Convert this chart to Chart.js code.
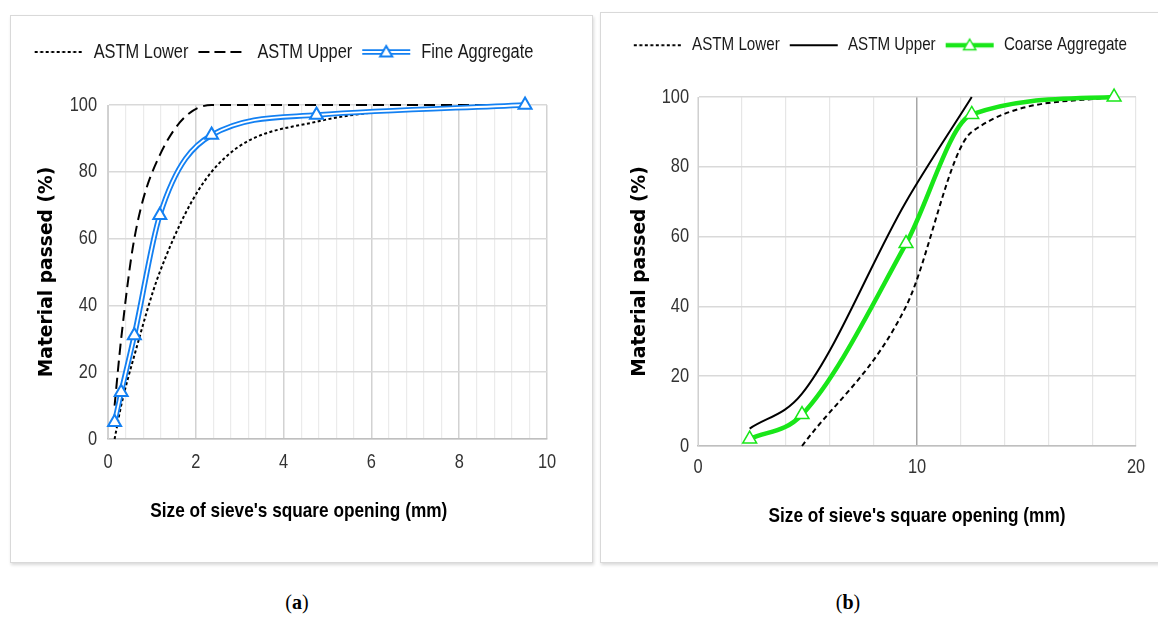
<!DOCTYPE html>
<html>
<head>
<meta charset="utf-8">
<script src="https://cdn.jsdelivr.net/npm/chart.js@4.4.1/dist/chart.umd.min.js"></script>
<style>
  body { margin: 0; background: #fff; width: 1158px; height: 617px; overflow: hidden; position: relative; }
  .panel { position: absolute; border: 1px solid #d9d9d9; box-shadow: 1px 2px 3px rgba(0,0,0,0.15); box-sizing: border-box; }
  canvas { position: absolute; }
  .cap { position: absolute; top: 590px; width: 100px; text-align: center; font-family: "Liberation Serif", serif; font-size: 20px; line-height: 24px; }
</style>
</head>
<body>
<div class="panel" style="left:10px; top:15px; width:583px; height:548px;"></div>
<div class="panel" style="left:600px; top:12px; width:562px; height:551px;"></div>
<canvas id="chartA" width="583" height="548" style="left:10px; top:15px;"></canvas>
<canvas id="chartB" width="558" height="551" style="left:600px; top:12px;"></canvas>
<div class="cap" style="left:247px;">(<b>a</b>)</div>
<div class="cap" style="left:798px;">(<b>b</b>)</div>
<script>
// sieve sizes (mm) and % passing
const fineSieve = [0.15, 0.3, 0.6, 1.18, 2.36, 4.75, 9.5];
const fineLower = [0, 10, 25, 50, 80, 95, 100];
const fineUpper = [10, 30, 60, 85, 100, 100, 100];
const fineAgg = [5, 14, 31, 67, 91, 97, 100];

const coarseSieve = [2.36, 4.75, 9.5, 12.5, 19];
const coarseLower = [null, 0, 40, 90, 100];
const coarseUpper = [5, 15, 70, 100, null];
const coarseAgg = [2, 9, 58, 95, 100];

const xLabelsA = [0, 2, 4, 6, 8, 10];
const xLabelsB = [0, 10, 20];
const yLabels = [0, 20, 40, 60, 80, 100];

const BLUE = '#1380f2';
const GREEN = '#19e619';
const NARROW = "'Liberation Sans', Arial, sans-serif";
const WIDE = "'DejaVu Sans', Verdana, sans-serif";
const X_TITLE = "Size of sieve's square opening (mm)";

// no condensed font is installed, so squeeze Liberation Sans text sideways
function condenseText(canvas, factor) {
  const ctx = canvas.getContext('2d');
  const fill = ctx.fillText.bind(ctx);
  const measure = ctx.measureText.bind(ctx);
  const narrow = () => ctx.font.indexOf('Liberation Sans') >= 0;
  ctx.fillText = function (text, x, y, maxWidth) {
    if (!narrow()) return maxWidth === undefined ? fill(text, x, y) : fill(text, x, y, maxWidth);
    ctx.save();
    ctx.translate(x, y);
    ctx.scale(factor, 1);
    fill(text, 0, 0);
    ctx.restore();
  };
  ctx.measureText = function (text) {
    const m = measure(text);
    if (!narrow()) return m;
    return { width: m.width * factor, actualBoundingBoxAscent: m.actualBoundingBoxAscent, actualBoundingBoxDescent: m.actualBoundingBoxDescent };
  };
}

function pts(xs, ys) {
  return xs.map((x, i) => ({ x: x, y: ys[i] })).filter(p => p.y !== null);
}

function near(list, v) {
  return list.some(t => Math.abs(t - v) < 1e-6);
}

// little canvases used as legend samples
function sample(w, draw) {
  const c = document.createElement('canvas');
  c.width = w; c.height = 18;
  const ctx = c.getContext('2d');
  draw(ctx, w, 9);
  return c;
}
function tri(ctx, x, y, r, stroke, lw) {
  ctx.setLineDash([]);
  ctx.beginPath();
  ctx.moveTo(x, y - r);
  ctx.lineTo(x + r * 0.866, y + r * 0.5);
  ctx.lineTo(x - r * 0.866, y + r * 0.5);
  ctx.closePath();
  ctx.fillStyle = '#fff';
  ctx.fill();
  ctx.strokeStyle = stroke;
  ctx.lineWidth = lw;
  ctx.stroke();
}
function hline(ctx, w, y, color, lw, dash) {
  ctx.beginPath();
  ctx.setLineDash(dash);
  ctx.strokeStyle = color;
  ctx.lineWidth = lw;
  ctx.moveTo(1, y);
  ctx.lineTo(w - 1, y);
  ctx.stroke();
}

const SW = 50;
const dotSample = sample(SW, (c, w, y) => hline(c, w, y, '#000', 2, [3, 2.5]));
const dashSample = sample(SW, (c, w, y) => hline(c, w, y, '#000', 2, [11, 5]));
const solidSample = sample(SW, (c, w, y) => hline(c, w, y, '#000', 2, []));
const blueSample = sample(SW, (c, w, y) => {
  hline(c, w, y, BLUE, 5.5, []);
  hline(c, w, y, '#fff', 1.8, []);
  tri(c, w / 2, y + 1, 7, BLUE, 2);
});
const greenSample = sample(SW, (c, w, y) => {
  hline(c, w, y, GREEN, 4.5, []);
  tri(c, w / 2, y + 1, 7, GREEN, 1.5);
});

// keeps the legend box at a fixed height so the plot area lands where it should
const legendHeight = {
  id: 'legendHeight',
  beforeLayout(chart, args, opts) {
    const lg = chart.legend;
    if (lg && !lg._fixed) {
      const fit = lg.fit;
      lg.fit = function () { fit.call(this); this.height = opts.h; };
      lg._fixed = true;
    }
  }
};

function legendItems(names, styles) {
  return () => names.map((n, i) => ({
    text: n, pointStyle: styles[i], fillStyle: 'transparent', strokeStyle: 'transparent',
    lineWidth: 0, hidden: false, fontColor: '#1a1a1a', datasetIndex: i
  }));
}

function makeChart(id, cfg) {
  const canvas = document.getElementById(id);
  condenseText(canvas, 0.82);
  return new Chart(canvas, {
    type: 'scatter',
    data: { datasets: cfg.datasets },
    options: {
      responsive: false,
      animation: false,
      events: [],
      layout: { padding: cfg.padding },
      plugins: {
        tooltip: { enabled: false },
        legendHeight: { h: cfg.legendH },
        legend: {
          position: 'top',
          align: cfg.align,
          labels: {
            usePointStyle: true,
            pointStyleWidth: SW,
            padding: 9,
            font: { family: NARROW, size: cfg.legendSize },
            generateLabels: legendItems(cfg.names, cfg.samples)
          }
        }
      },
      scales: {
        x: {
          type: 'linear', min: 0, max: cfg.xMax,
          afterFit: s => { s.height = cfg.xAxisH; },
          border: { color: '#bfbfbf', width: 1.5 },
          grid: { drawTicks: false, color: cfg.xGrid, lineWidth: cfg.xGridW },
          ticks: {
            stepSize: cfg.xStep, autoSkip: false, maxRotation: 0, padding: cfg.xTickPad,
            font: { family: NARROW, size: 20 }, color: '#333',
            callback: v => near(cfg.xLabels, v) ? String(Math.round(v)) : ''
          },
          title: {
            display: true, text: cfg.xTitle,
            font: { family: NARROW, size: 21, weight: 'bold' }, color: '#000',
            padding: { top: 0, bottom: cfg.xTitlePad }
          }
        },
        y: {
          min: 0, max: 100,
          afterFit: s => { s.width = cfg.yAxisW; },
          border: { color: '#d0d0d0' },
          grid: { drawTicks: false, color: '#d9d9d9', lineWidth: 1.5 },
          ticks: {
            stepSize: 20, padding: cfg.yTickPad,
            font: { family: NARROW, size: 20 }, color: '#333',
            callback: v => near(yLabels, v) ? String(v) : ''
          },
          title: {
            display: true, text: 'Material passed (%)',
            font: { family: WIDE, size: 18.7, weight: 'bold' }, color: '#000',
            padding: { top: cfg.yTitlePad, bottom: 0 }
          }
        }
      }
    },
    plugins: [legendHeight]
  });
}

const lineBase = { showLine: true, tension: 0.4, cubicInterpolationMode: 'monotone', clip: false, pointRadius: 0 };

makeChart('chartA', {
  datasets: [
    Object.assign({}, lineBase, { label: 'ASTM Lower', data: pts(fineSieve, fineLower), borderColor: '#000', borderWidth: 2, borderDash: [3, 2.5], order: 3 }),
    Object.assign({}, lineBase, { label: 'ASTM Upper', data: pts(fineSieve, fineUpper), borderColor: '#000', borderWidth: 2, borderDash: [11, 6], order: 4 }),
    Object.assign({}, lineBase, { label: 'Fine Aggregate', data: pts(fineSieve, fineAgg), borderColor: '#fff', borderWidth: 1.8,
      pointRadius: 7.5, pointStyle: 'triangle', pointBackgroundColor: '#fff', pointBorderColor: BLUE, pointBorderWidth: 2, order: 1 }),
    Object.assign({}, lineBase, { label: 'Fine Aggregate outline', data: pts(fineSieve, fineAgg), borderColor: BLUE, borderWidth: 5.5, order: 2 })
  ],
  names: ['ASTM Lower', 'ASTM Upper', 'Fine Aggregate'],
  samples: [dotSample, dashSample, blueSample],
  padding: { left: 10, right: 46, top: 18, bottom: 0 },
  legendH: 72, legendSize: 20, align: 'center',
  xMax: 10, xStep: 0.4, xLabels: xLabelsA, xAxisH: 124, xTickPad: 11, xTitlePad: 39,
  // in the original the title sits left of the plot centre
  xTitle: X_TITLE + '\u00a0'.repeat(12),
  xGrid: c => near(xLabelsA, c.tick.value) ? '#d2d2d2' : '#ebebeb',
  xGridW: c => near(xLabelsA, c.tick.value) ? 1.5 : 1.2,
  yAxisW: 88, yTickPad: 11, yTitlePad: 16
});

makeChart('chartB', {
  datasets: [
    Object.assign({}, lineBase, { label: 'ASTM Lower', data: pts(coarseSieve, coarseLower), borderColor: '#000', borderWidth: 2, borderDash: [5, 3.5], order: 2 }),
    Object.assign({}, lineBase, { label: 'ASTM Upper', data: pts(coarseSieve, coarseUpper), borderColor: '#000', borderWidth: 2, order: 3 }),
    Object.assign({}, lineBase, { label: 'Coarse Aggregate', data: pts(coarseSieve, coarseAgg), borderColor: GREEN, borderWidth: 4.5,
      pointRadius: 8, pointStyle: 'triangle', pointBackgroundColor: '#fff', pointBorderColor: GREEN, pointBorderWidth: 1.5, order: 1 })
  ],
  names: ['ASTM Lower', 'ASTM Upper', 'Coarse Aggregate'],
  samples: [dotSample, solidSample, greenSample],
  padding: { left: 0, right: 22, top: 15, bottom: 0 },
  legendH: 70, legendSize: 18.5, align: 'end',
  xMax: 20, xStep: 2, xLabels: xLabelsB, xAxisH: 117, xTickPad: 9, xTitlePad: 34,
  xTitle: X_TITLE,
  xGrid: c => Math.abs(c.tick.value - 10) < 1e-6 ? '#a6a6a6' : '#e6e6e6',
  xGridW: c => Math.abs(c.tick.value - 10) < 1e-6 ? 1.5 : 1.2,
  yAxisW: 98, yTickPad: 9, yTitlePad: 29
});
</script>
</body>
</html>
